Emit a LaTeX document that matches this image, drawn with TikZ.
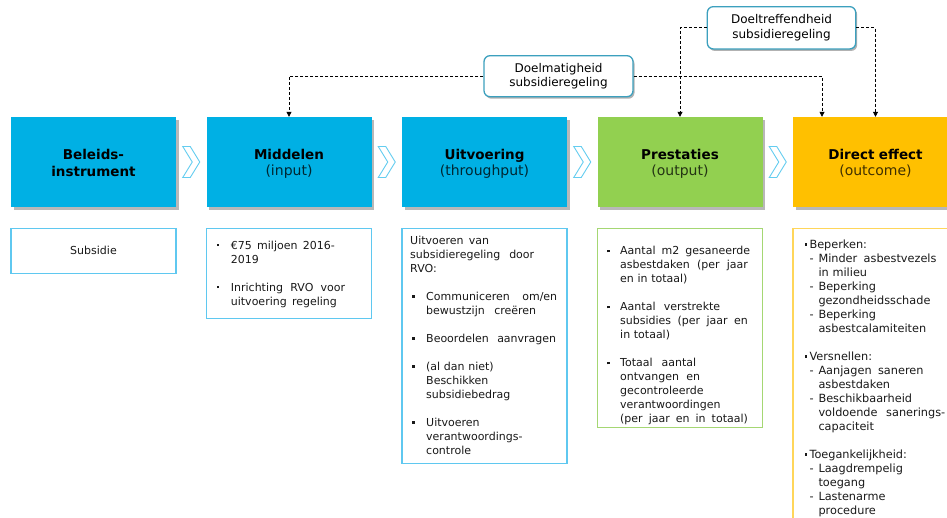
\documentclass[tikz,border=0pt]{standalone}
\usepackage{fontspec}
\setmainfont{DejaVu Sans}
\usetikzlibrary{shadows,arrows.meta,calc}
\definecolor{hblue}{RGB}{0,176,228}
\definecolor{hgreen}{RGB}{146,208,80}
\definecolor{horange}{RGB}{255,192,0}
\definecolor{bblue}{RGB}{95,200,240}
\definecolor{bgreen}{RGB}{165,215,115}
\definecolor{borange}{RGB}{255,214,90}
\definecolor{cborder}{RGB}{60,160,190}
\definecolor{chevc}{RGB}{100,205,240}
\newcommand{\jline}[2]{\leavevmode\hbox to #1{#2}}
\newcommand{\mybul}[2]{\leavevmode\llap{\makebox[#1][l]{#2}}}
\newcommand{\sqb}{\rule[2.4pt]{2.8pt}{2.8pt}}
\newcommand{\dotb}{\rule[2.8pt]{2.2pt}{2.2pt}}
\newcommand{\mydash}{\leavevmode\makebox[9pt][l]{-}}
\newcommand{\myind}{\leavevmode\hspace*{9pt}}
\newcommand{\subt}[2]{{\fontsize{14}{16.5}\selectfont\color{#1}#2}}
\begin{document}
\begin{tikzpicture}[x=1pt,y=-1pt,
 hdr/.style={rectangle, minimum width=165pt, minimum height=90pt, inner sep=0pt,
   drop shadow={shadow xshift=2.5pt, shadow yshift=-2.5pt, opacity=0.28, fill=black}},
 htext/.style={text width=160pt, align=center, anchor=base, inner sep=0pt,
   font=\fontsize{13.5}{16.5}\selectfont},
 tbox/.style={rectangle, draw, line width=1.3pt, minimum width=165pt, inner sep=0pt, anchor=north},
 body/.style={inner sep=0pt, anchor=base west, text width=150pt, align=left, text=black!90,
   font=\fontsize{11}{14}\selectfont},
 callout/.style={rectangle, rounded corners=6pt, draw=cborder, line width=1.3pt, fill=white,
   minimum width=149pt, minimum height=41pt, align=center, inner sep=0pt,
   font=\fontsize{12}{14.4}\selectfont,
   drop shadow={shadow xshift=1.5pt, shadow yshift=-2pt, opacity=0.3, fill=black}},
 conn/.style={draw=black, line width=0.8pt, dash pattern=on 3pt off 2pt,
   -{Triangle[length=5pt,width=5pt]}},
 chev/.style={draw=chevc, line width=0.9pt, fill=white},
 pics/chevron/.style={code={\draw[chev] (-8.5,-15.5) -- (-1,-15.5) -- (8.5,0) -- (-1,15.5) -- (-8.5,15.5) -- (1,0) -- cycle;}}
]
\useasboundingbox[fill=white] (0,0) rectangle (947,517);

% header boxes
\node[hdr, fill=hblue] (b1) at (93.5,162) {};
\node[hdr, fill=hblue] (b2) at (289,162) {};
\node[hdr, fill=hblue] (b3) at (484.5,162) {};
\node[hdr, fill=hgreen] (b4) at (680,162) {};
\node[hdr, fill=horange] (b5) at (875.5,162) {};

\node[htext] (h1) at (93.5,159.8) {\textbf{Beleids-}\\\textbf{instrument}};
\node[htext] (h2) at (289,159.2) {\textbf{Middelen}\\\subt{hblue!22!black}{(input)}};
\node[htext] (h3) at (484.5,159.2) {\textbf{Uitvoering}\\\subt{hblue!22!black}{(throughput)}};
\node[htext] (h4) at (680,159.2) {\textbf{Prestaties}\\\subt{hgreen!25!black}{(output)}};
\node[htext] (h5) at (875.5,159.2) {\textbf{Direct effect}\\\subt{horange!25!black}{(outcome)}};

% chevrons
\pic at ($(b1.east)!0.5!(b2.west)$) {chevron};
\pic at ($(b2.east)!0.5!(b3.west)$) {chevron};
\pic at ($(b3.east)!0.5!(b4.west)$) {chevron};
\pic at ($(b4.east)!0.5!(b5.west)$) {chevron};

% callouts and connectors
\node[callout] (c1) at (558.5,76.2) {Doelmatigheid\\subsidieregeling};
\node[callout, minimum width=148.4pt, minimum height=42.3pt] (c2) at (781.5,27.8) {Doeltreffendheid\\subsidieregeling};
\coordinate (d1) at ($(b5.north)+(-53.5,0)$);
\draw[conn] (c1.west) -| (b2.north);
\draw[conn] (c1.east) -| (d1);
\draw[conn] (c2.west) -| (b4.north);
\draw[conn] (c2.east) -| (b5.north);

% text boxes
\node[tbox, draw=bblue, minimum height=45pt] (tb1) at (93.5,227.5) {};
\node[tbox, draw=bblue, minimum height=90pt] (tb2) at (289,228) {};
\node[tbox, draw=bblue, minimum height=235pt] (tb3) at (484.5,227.5) {};
\node[tbox, draw=bgreen, minimum height=199pt] (tb4) at (680,228) {};
\node[tbox, draw=borange, minimum height=320pt] (tb5) at (875.5,227.5) {};

\node[inner sep=0pt, text=black!90, font=\fontsize{11}{14}\selectfont] (t1) at (93.5,250) {Subsidie};

\node[body] (t2) at (230.7,249) {%
\mybul{14pt}{\dotb}\jline{104pt}{€75 \hfill miljoen \hfill 2016-}\\
2019\\[14pt]
\mybul{14pt}{\dotb}\jline{114.3pt}{Inrichting \hfill RVO \hfill voor}\\
\jline{106pt}{uitvoering \hfill regeling}};

\node[body] (t3) at (410,244) {%
\jline{79pt}{Uitvoeren \hfill van}\\
\jline{124pt}{subsidieregeling \hfill door}\\
RVO:\\[14pt]
\hspace*{16pt}\mybul{14.3pt}{\sqb}\jline{131pt}{Communiceren \hfill om/en}\\
\hspace*{16pt}\jline{110pt}{bewustzijn \hfill creëren}\\[14pt]
\hspace*{16pt}\mybul{14.3pt}{\sqb}\jline{130pt}{Beoordelen \hfill aanvragen}\\[14pt]
\hspace*{16pt}\mybul{14.3pt}{\sqb}(al dan niet)\\
\hspace*{16pt}Beschikken\\
\hspace*{16pt}subsidiebedrag\\[14pt]
\hspace*{16pt}\mybul{14.3pt}{\sqb}Uitvoeren\\
\hspace*{16pt}verantwoordings-\\
\hspace*{16pt}controle};

\node[body] (t4) at (620,254.7) {%
\mybul{13.3pt}{\sqb}\jline{130pt}{Aantal \hfill m2 \hfill gesaneerde}\\
\jline{127.7pt}{asbestdaken \hfill (per \hfill jaar}\\
en in totaal)\\[14pt]
\mybul{13.3pt}{\sqb}\jline{100pt}{Aantal \hfill verstrekte}\\
\jline{127.7pt}{subsidies \hfill (per \hfill jaar \hfill en}\\
in totaal)\\[14pt]
\mybul{13.3pt}{\sqb}\jline{76pt}{Totaal \hfill aantal}\\
\jline{80pt}{ontvangen \hfill en}\\
gecontroleerde\\
verantwoordingen\\
\jline{127.7pt}{(per \hfill jaar \hfill en \hfill in \hfill totaal)}};

\node[body, text width=140pt, font=\fontsize{11.3}{14}\selectfont] (t5) at (809.3,248) {%
\mybul{5pt}{\sqb}Beperken:\\
\mydash\jline{118pt}{Minder \hfill asbestvezels}\\
\myind in milieu\\
\mydash Beperking\\
\myind gezondheidsschade\\
\mydash Beperking\\
\myind asbestcalamiteiten\\[14pt]
\mybul{5pt}{\sqb}Versnellen:\\
\mydash\jline{105pt}{Aanjagen \hfill saneren}\\
\myind asbestdaken\\
\mydash Beschikbaarheid\\
\myind\jline{126.7pt}{voldoende \hfill sanerings-}\\
\myind capaciteit\\[14pt]
\mybul{5pt}{\sqb}Toegankelijkheid:\\
\mydash Laagdrempelig\\
\myind toegang\\
\mydash Lastenarme\\
\myind procedure};
\end{tikzpicture}
\end{document}
